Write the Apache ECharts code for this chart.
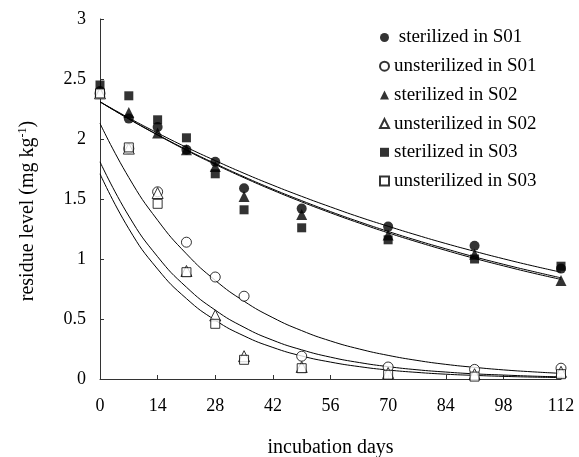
<!DOCTYPE html>
<html>
<head>
<meta charset="utf-8">
<script src="https://cdn.jsdelivr.net/npm/echarts@6/dist/echarts.min.js"></script>
<style>html,body{margin:0;padding:0;background:#fff;}#c{width:579px;height:457px;}</style>
</head>
<body>
<div id="c"></div>
<script>
// sampling days
var days = [0, 7, 14, 21, 28, 35, 49, 70, 91, 112];
var xTicks = [0, 14, 28, 42, 56, 70, 84, 98, 112];

// measured points
var sterS01   = [2.40, 2.17, 2.10, 1.91, 1.81, 1.59, 1.42, 1.27, 1.11, 0.92];
var unsterS01 = [2.38, 1.92, 1.56, 1.14, 0.85, 0.69, 0.19, 0.10, 0.08, 0.09];
var sterS02   = [2.40, 2.22, 2.05, 1.91, 1.77, 1.52, 1.37, 1.20, 1.04, 0.82];
var unsterS02 = [2.38, 1.92, 1.55, 0.90, 0.53, 0.19, 0.10, 0.05, 0.04, 0.06];
var sterS03   = [2.45, 2.36, 2.16, 2.01, 1.71, 1.41, 1.26, 1.16, 1.00, 0.94];
var unsterS03 = [2.38, 1.93, 1.46, 0.89, 0.46, 0.16, 0.09, 0.035, 0.02, 0.04];

// fitted curves
var fitDays = [0, 7, 14, 21, 28, 35, 42, 49, 56, 63, 70, 77, 84, 91, 98, 105, 112];
var fitSterA = [2.31, 2.176, 2.050, 1.931, 1.820, 1.714, 1.615, 1.522, 1.434, 1.350, 1.273, 1.199, 1.129, 1.064, 1.002, 0.944, 0.890];
var fitSterB = [2.31, 2.168, 2.036, 1.911, 1.795, 1.685, 1.582, 1.486, 1.395, 1.310, 1.230, 1.155, 1.085, 1.018, 0.956, 0.898, 0.843];
var fitSterC = [2.31, 2.167, 2.033, 1.906, 1.788, 1.677, 1.573, 1.476, 1.385, 1.299, 1.218, 1.143, 1.072, 1.005, 0.943, 0.884, 0.830];
var fitUnA = [2.13, 1.679, 1.323, 1.043, 0.822, 0.648, 0.511, 0.403, 0.317, 0.250, 0.197, 0.155, 0.122, 0.097, 0.076, 0.060, 0.047];
var fitUnB = [1.81, 1.358, 1.019, 0.765, 0.574, 0.431, 0.323, 0.243, 0.182, 0.137, 0.103, 0.077, 0.058, 0.043, 0.033, 0.024, 0.018];
var fitUnC = [1.71, 1.252, 0.916, 0.670, 0.490, 0.359, 0.263, 0.192, 0.141, 0.103, 0.075, 0.055, 0.040, 0.030, 0.022, 0.016, 0.012];

var names = [' sterilized in S01', 'unsterilized in S01', 'sterilized in S02', 'unsterilized in S02', 'sterilized in S03', 'unsterilized in S03'];

function pairs(xs, ys) { return xs.map(function (x, i) { return [x, ys[i]]; }); }

var FONT = 'Liberation Serif';
var fits = [fitSterA, fitSterB, fitSterC, fitUnA, fitUnB, fitUnC];
var series = fits.map(function (f) {
  return { type: 'line', data: pairs(fitDays, f), smooth: true, symbol: 'none', silent: true, z: 1,
           lineStyle: { color: '#000', width: 1 } };
});
var pts = [
  { d: sterS01, sym: 'circle', size: 10, filled: true },
  { d: unsterS01, sym: 'circle', size: 10, filled: false },
  { d: sterS02, sym: 'triangle', size: 11, filled: true },
  { d: unsterS02, sym: 'triangle', size: 11, filled: false },
  { d: sterS03, sym: 'rect', size: 9, filled: true },
  { d: unsterS03, sym: 'rect', size: 9, filled: false }
];
pts.forEach(function (p, i) {
  series.push({
    name: names[i], type: 'scatter', data: pairs(days, p.d), symbol: p.sym, symbolSize: p.size, z: p.filled ? 3 : 4,
    itemStyle: p.filled ? { color: '#000', borderWidth: 0 } : { color: '#fff', borderColor: '#000', borderWidth: 1 }
  });
});

var chart = echarts.init(document.getElementById('c'));
chart.setOption({
  animation: false,
  backgroundColor: '#fff',
  grid: { left: 100, right: 18, top: 19, bottom: 78, containLabel: false, outerBoundsMode: 'none' },
  legend: {
    data: names.map(function (n, i) { return { name: n, icon: pts[i].sym }; }),
    orient: 'vertical', left: 374, top: 23, itemWidth: 9, itemHeight: 9, itemGap: 9.7,
    textStyle: { fontFamily: FONT, fontSize: 19, color: '#000' }, selectedMode: false
  },
  xAxis: {
    type: 'value', min: 0, max: 112, interval: 14,
    name: 'incubation days', nameLocation: 'middle', nameGap: 59,
    nameTextStyle: { fontFamily: FONT, fontSize: 20, color: '#000' },
    axisLine: { lineStyle: { color: '#333', width: 1 } },
    axisTick: { inside: true, length: 4, lineStyle: { color: '#333' } },
    axisLabel: { fontFamily: FONT, fontSize: 18, color: '#000', margin: 18,
      formatter: function (v) { return xTicks.indexOf(v) >= 0 ? String(v) : ''; } },
    splitLine: { show: false }
  },
  yAxis: {
    type: 'value', min: 0, max: 3, interval: 0.5,
    name: 'residue level (mg kg{sup|-1})', nameLocation: 'middle', nameGap: 62,
    nameTextStyle: { fontFamily: FONT, fontSize: 20, color: '#000', padding: [0, 24, 0, 0],
      rich: { sup: { fontFamily: FONT, fontSize: 12, color: '#000', verticalAlign: 'top', padding: [0, 0, 9, 0] } } },
    axisLine: { show: true, lineStyle: { color: '#333', width: 1 } },
    axisTick: { show: true, inside: true, length: 4, lineStyle: { color: '#333' } },
    axisLabel: { fontFamily: FONT, fontSize: 18, color: '#000', margin: 14 },
    splitLine: { show: false }
  },
  series: series
});
</script>
</body>
</html>
